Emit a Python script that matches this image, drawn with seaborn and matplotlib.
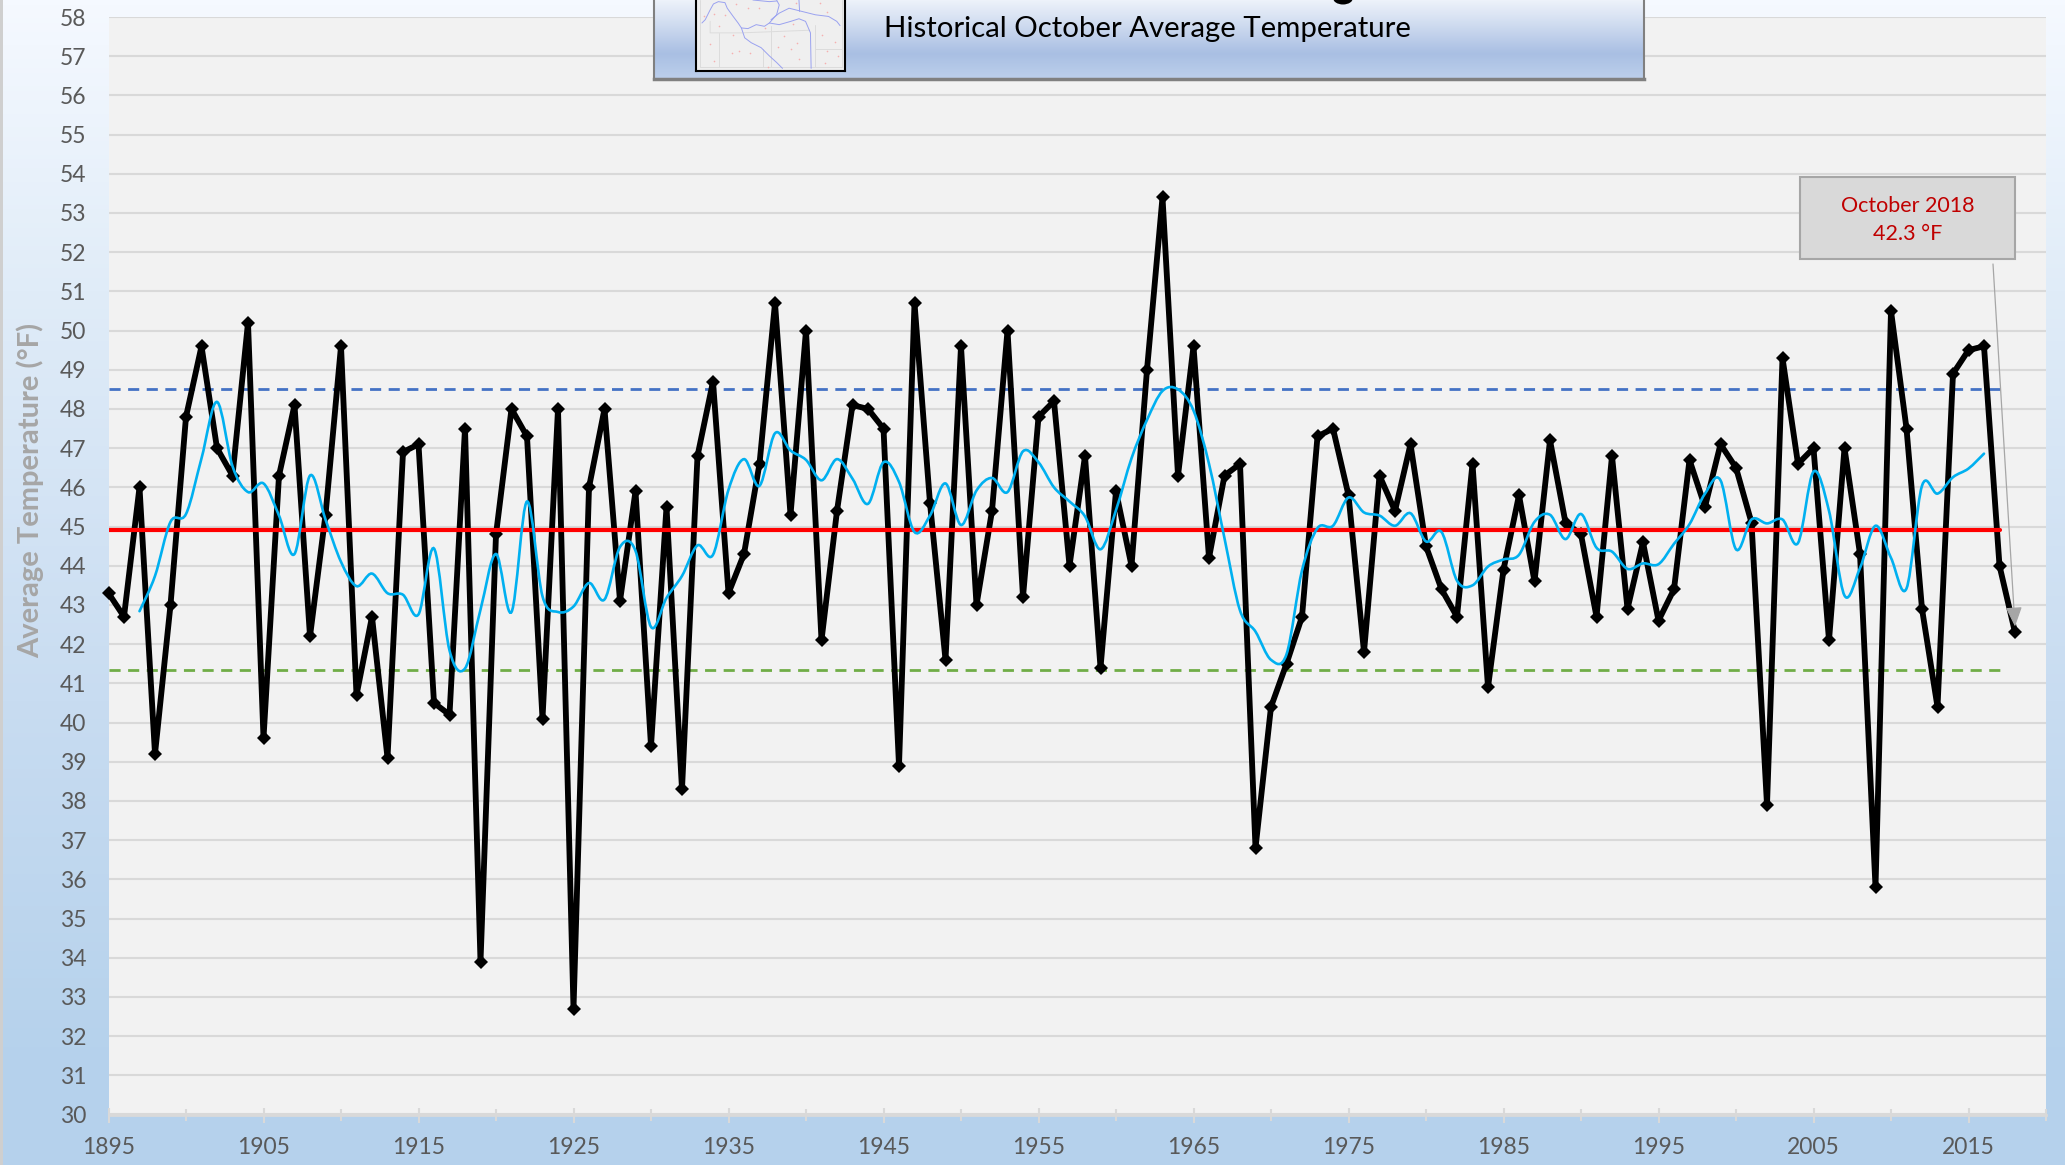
import numpy as np
import pandas as pd
import matplotlib
matplotlib.use("Agg")
import matplotlib.pyplot as plt
from matplotlib.path import Path
from matplotlib.patches import PathPatch, Rectangle, Ellipse
from matplotlib.colors import LinearSegmentedColormap
from matplotlib.ticker import MultipleLocator, FixedLocator
import seaborn as sns

years = list(range(1895, 2019))
october_temp = [
    43.3, 42.7, 46.0, 39.2, 43.0, 47.8, 49.6, 47.0, 46.3, 50.2,
    39.6, 46.3, 48.1, 42.2, 45.3, 49.6, 40.7, 42.7, 39.1, 46.9,
    47.1, 40.5, 40.2, 47.5, 33.9, 44.8, 48.0, 47.3, 40.1, 48.0,
    32.7, 46.0, 48.0, 43.1, 45.9, 39.4, 45.5, 38.3, 46.8, 48.7,
    43.3, 44.3, 46.6, 50.7, 45.3, 50.0, 42.1, 45.4, 48.1, 48.0,
    47.5, 38.9, 50.7, 45.6, 41.6, 49.6, 43.0, 45.4, 50.0, 43.2,
    47.8, 48.2, 44.0, 46.8, 41.4, 45.9, 44.0, 49.0, 53.4, 46.3,
    49.6, 44.2, 46.3, 46.6, 36.8, 40.4, 41.5, 42.7, 47.3, 47.5,
    45.8, 41.8, 46.3, 45.4, 47.1, 44.5, 43.4, 42.7, 46.6, 40.9,
    43.9, 45.8, 43.6, 47.2, 45.1, 44.8, 42.7, 46.8, 42.9, 44.6,
    42.6, 43.4, 46.7, 45.5, 47.1, 46.5, 45.1, 37.9, 49.3, 46.6,
    47.0, 42.1, 47.0, 44.3, 35.8, 50.5, 47.5, 42.9, 40.4, 48.9,
    49.5, 49.6, 44.0, 42.3,
]
trend_years = list(range(1897, 2017))
trend_temp = [
    42.84, 43.74, 45.12, 45.32, 46.74, 48.18, 46.54, 45.88, 46.10, 45.28,
    44.30, 46.30, 45.18, 44.10, 43.48, 43.80, 43.30, 43.26, 42.76, 44.44,
    41.84, 41.38, 42.88, 44.30, 42.82, 45.64, 43.22, 42.82, 42.96, 43.56,
    43.14, 44.48, 44.38, 42.44, 43.18, 43.74, 44.52, 44.28, 45.94, 46.72,
    46.04, 47.38, 46.94, 46.70, 46.18, 46.72, 46.22, 45.58, 46.64, 46.14,
    44.86, 45.28, 46.10, 45.04, 45.92, 46.24, 45.88, 46.92, 46.64, 46.00,
    45.64, 45.26, 44.42, 45.42, 46.74, 47.72, 48.46, 48.50, 47.96, 46.60,
    44.70, 42.86, 42.32, 41.60, 41.74, 43.88, 44.96, 45.02, 45.74, 45.36,
    45.28, 45.02, 45.34, 44.62, 44.86, 43.62, 43.50, 43.98, 44.16, 44.28,
    45.12, 45.30, 44.68, 45.32, 44.46, 44.36, 43.92, 44.06, 44.04, 44.56,
    45.06, 45.84, 46.18, 44.42, 45.18, 45.08, 45.18, 44.58, 46.40, 45.40,
    43.24, 43.94, 45.02, 44.20, 43.42, 46.04, 45.84, 46.26, 46.48, 46.86,
]
ref_years = [1895, 2017]
mean_temp = [44.92, 44.92]
upper_temp = [48.52, 48.52]
lower_temp = [41.33, 41.33]

subtitle = "Historical October Average Temperature"
y_title = "Average Temperature (°F)"
callout = "October 2018\n42.3 °F"

W, H = 2065, 1165
sns.set_theme(style="white")
plt.rcParams["font.family"] = ["Lato", "DejaVu Sans"]


def px_rect(x0, y0, x1, y1):
    """Figure-fraction rectangle from pixel edges (y measured from the top)."""
    return [x0 / W, 1 - y1 / H, (x1 - x0) / W, (y1 - y0) / H]


fig = plt.figure(figsize=(W / 100, H / 100), dpi=100)

# page gradient
bg = fig.add_axes([0, 0, 1, 1], zorder=0)
bg_cmap = LinearSegmentedColormap.from_list(
    "page", [(0, "#f5f9ff"), (0.25, "#e0ecf8"), (0.6, "#c8dcf1"), (0.9, "#b6d2ec"), (1, "#b5d1ec")])
bg.imshow(np.linspace(0, 1, 256)[:, None], aspect="auto", cmap=bg_cmap, extent=[0, W, H, 0])
bg.add_patch(Rectangle((0, 0), 2.5, H, color="#cfcfcf", lw=0))
bg.set_xlim(0, W)
bg.set_ylim(H, 0)
bg.axis("off")

# main chart
ax = fig.add_axes(px_rect(108.5, 17, 2046, 1114.5), zorder=1)
ax.set_facecolor("#f2f2f2")
ax.set_xlim(1895, 2020)
ax.set_ylim(30, 58)
ax.yaxis.set_major_locator(MultipleLocator(1))
ax.grid(axis="y", color="#d9d9d9", lw=1.5, zorder=0)
ax.set_axisbelow(True)
for side in ("top", "left", "right"):
    ax.spines[side].set_visible(False)
ax.spines["bottom"].set_color("#d9d9d9")
ax.spines["bottom"].set_linewidth(2)

ax.set_xticks(list(range(1895, 2016, 10)))
ax.xaxis.set_minor_locator(FixedLocator(list(range(1900, 2021, 10))))
ax.tick_params(axis="x", which="major", direction="inout", length=10.8, width=1.5,
               color="#d9d9d9", labelcolor="#595959", labelsize=16.5, pad=11, bottom=True)
ax.tick_params(axis="x", which="minor", direction="inout", length=8, width=1.5,
               color="#d9d9d9", bottom=True)
ax.tick_params(axis="y", length=0, labelcolor="#595959", labelsize=16.5, pad=16)

df = pd.DataFrame({"year": years, "temp": october_temp})
sns.lineplot(data=pd.DataFrame({"year": ref_years, "temp": upper_temp}), x="year", y="temp", ax=ax,
             color="#4472c4", lw=2, dashes=(4, 2.7), zorder=3, errorbar=None)
sns.lineplot(data=pd.DataFrame({"year": ref_years, "temp": lower_temp}), x="year", y="temp", ax=ax,
             color="#70ad47", lw=2, dashes=(4, 2.7), zorder=3, errorbar=None)
sns.lineplot(data=df, x="year", y="temp", ax=ax, color="black", lw=4.2, marker="D", markersize=7,
             markeredgecolor="black", markeredgewidth=0, solid_joinstyle="round", clip_on=False,
             zorder=4, errorbar=None)
sns.lineplot(data=pd.DataFrame({"year": ref_years, "temp": mean_temp}), x="year", y="temp", ax=ax,
             color="#ff0000", lw=3, zorder=5, errorbar=None)

# smoothed trend: Bezier path through the yearly values, the way the source smooths its line
tx = np.array(trend_years, float)
ty = np.array(trend_temp, float)
verts = [(tx[0], ty[0])]
codes = [Path.MOVETO]
for i in range(len(tx) - 1):
    p0 = (tx[max(i - 1, 0)], ty[max(i - 1, 0)])
    p1 = (tx[i], ty[i])
    p2 = (tx[i + 1], ty[i + 1])
    p3 = (tx[min(i + 2, len(tx) - 1)], ty[min(i + 2, len(tx) - 1)])
    verts += [(p1[0] + (p2[0] - p0[0]) / 6, p1[1] + (p2[1] - p0[1]) / 6),
              (p2[0] - (p3[0] - p1[0]) / 6, p2[1] - (p3[1] - p1[1]) / 6), p2]
    codes += [Path.CURVE4] * 3
ax.add_patch(PathPatch(Path(verts, codes), fc="none", ec="#00b0f0", lw=1.9, zorder=6, capstyle="round"))

ax.set_xlabel("")
ax.set_ylabel("")

fig.text(30 / W, 1 - 490 / H, y_title, rotation=90, ha="center", va="center",
         fontsize=21, fontweight="bold", color="#a6a6a6", zorder=3)

# callout with arrow to the last point
cal = fig.add_axes([0, 0, 1, 1], zorder=3)
cal.set_xlim(0, W)
cal.set_ylim(H, 0)
cal.axis("off")
cal.patch.set_alpha(0)
cal.add_patch(Rectangle((1800, 177), 215, 82, fc="#d9d9d9", ec="#a6a6a6", lw=1.5))
cal.text(1907.5, 220, callout, color="#c00000", fontsize=15.5, ha="center", va="center", linespacing=1.5)
tip = ax.transData.transform((2018.0, 42.45))
tip = (tip[0], H - tip[1])
cal.annotate("", xy=tip, xytext=(1993, 264),
             arrowprops=dict(arrowstyle="-|>,head_length=1.0,head_width=0.42", color="#a6a6a6",
                             lw=0.9, shrinkA=0, shrinkB=0, mutation_scale=12))

# title banner
ban = fig.add_axes(px_rect(654, 0, 1644, 79), zorder=4)
ban_cmap = LinearSegmentedColormap.from_list(
    "banner", [(0, "#edf2fa"), (0.3, "#d0dcf0"), (0.68, "#a9bfe3"), (1, "#bccfeb")])
ban.imshow(np.linspace(0, 1, 64)[:, None], aspect="auto", cmap=ban_cmap, extent=[654, 1644, 79, 0])
ban.set_xlim(654, 1644)
ban.set_ylim(79, 0)
ban.set_xticks([])
ban.set_yticks([])
for side, spine in ban.spines.items():
    spine.set_color("#808080")
    spine.set_linewidth(1.5)
ban.spines["top"].set_visible(False)
ban.spines["bottom"].set_linewidth(2.5)
ban.text(884, 29, subtitle, fontsize=21.2, color="black", ha="left", va="center")
ban.add_patch(Ellipse((1343, -2), 20, 13, color="black", lw=0))

# locator map thumbnail (coordinates local to the thumbnail)
mp = fig.add_axes(px_rect(696, 0, 845, 71), zorder=5)
mp.set_facecolor("#efefef")
mp.set_xlim(17, 470)
mp.set_ylim(216, 0)
mp.set_xticks([])
mp.set_yticks([])
for side, spine in mp.spines.items():
    spine.set_color("black")
    spine.set_linewidth(1.5)
mp.spines["top"].set_visible(False)
county_lines = [
    [(28, 0), (28, 205), (460, 205), (460, 0)],
    [(60, 65), (60, 100), (155, 100), (362, 92)],
    [(88, 100), (88, 205)],
    [(245, 80), (245, 205)],
    [(380, 75), (380, 205)],
    [(380, 150), (460, 150)],
    [(220, 150), (220, 205)],
]
for seg in county_lines:
    mp.plot(*zip(*seg), color="#dcdcdc", lw=0.7)
rivers = [
    [(35, 70), (45, 60), (60, 30), (70, 12), (85, 5), (105, 8), (112, 25), (130, 50), (145, 70),
     (155, 85), (175, 87), (200, 75), (225, 80), (240, 70), (262, 45), (270, 15), (262, 0)],
    [(155, 85), (165, 115), (185, 130), (215, 145), (240, 170), (262, 190), (280, 208)],
    [(240, 70), (270, 75), (305, 65), (330, 57), (350, 65), (365, 100), (367, 208)],
    [(245, 60), (270, 40), (300, 25), (340, 35), (380, 45), (420, 50), (445, 65), (455, 78)],
    [(190, 0), (240, 5), (262, 3)],
    [(330, 0), (332, 35)],
]
for seg in rivers:
    mp.plot(*zip(*seg), color="#9aa2f0", lw=0.7)
towns = [(40, 48), (72, 42), (105, 45), (140, 12), (175, 25), (208, 25), (86, 78), (128, 108), (60, 135),
         (148, 155), (125, 162), (72, 185), (226, 85), (285, 110), (325, 132), (305, 150), (265, 143),
         (330, 180), (400, 105), (440, 128), (415, 155), (410, 192), (450, 170), (415, 38), (395, 8),
         (320, 8), (312, 72), (237, 205), (182, 160)]
mp.scatter(*zip(*towns), s=1.4, color="#f5b0b0", linewidths=0, zorder=3)

fig.savefig("out.png", dpi=100)
